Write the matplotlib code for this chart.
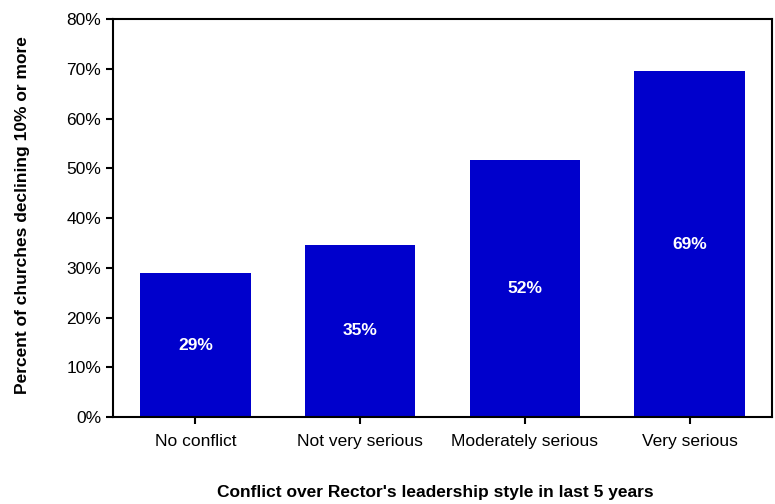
import matplotlib
matplotlib.use("Agg")
import matplotlib.pyplot as plt
from matplotlib.ticker import PercentFormatter

categories = ["No conflict", "Not very serious", "Moderately serious", "Very serious"]
values = [28.9, 34.6, 51.7, 69.5]
labels = ["29%", "35%", "52%", "69%"]
yticks = [0, 10, 20, 30, 40, 50, 60, 70, 80]

plt.rcParams["font.family"] = ["Liberation Sans", "DejaVu Sans"]

fig = plt.figure(figsize=(7.75, 5.04), dpi=100)
ax = fig.add_axes([0.1458, 0.1726, 0.8503, 0.7897])

x = range(len(categories))
bars = ax.bar(x, values, width=0.67, color="#0000CC")
for b, lab in zip(bars, labels):
    ax.text(b.get_x() + b.get_width() / 2, b.get_height() / 2, lab,
            ha="center", va="center", color="white", fontsize=12.5, fontweight="bold")

ax.set_xlim(-0.5, 3.5)
ax.set_ylim(0, 80)
ax.set_yticks(yticks)
ax.yaxis.set_major_formatter(PercentFormatter(decimals=0))
ax.set_xticks(list(x))
ax.set_xticklabels(categories)
ax.tick_params(axis="both", labelsize=12.5, direction="out", length=5, width=1.5, color="black")
ax.tick_params(axis="x", pad=7)
for s in ax.spines.values():
    s.set_linewidth(1.5)

ax.set_xlabel("Conflict over Rector's leadership style in last 5 years",
              fontsize=12.5, fontweight="bold")
ax.set_ylabel("Percent of churches declining 10% or more",
              fontsize=12.5, fontweight="bold")
ax.xaxis.set_label_coords(0.489, -0.19)
ax.yaxis.set_label_coords(-0.138, 0.508)
ax.xaxis.label.set_va("center")
ax.yaxis.label.set_va("center")

plt.savefig("out.png", dpi=100)
